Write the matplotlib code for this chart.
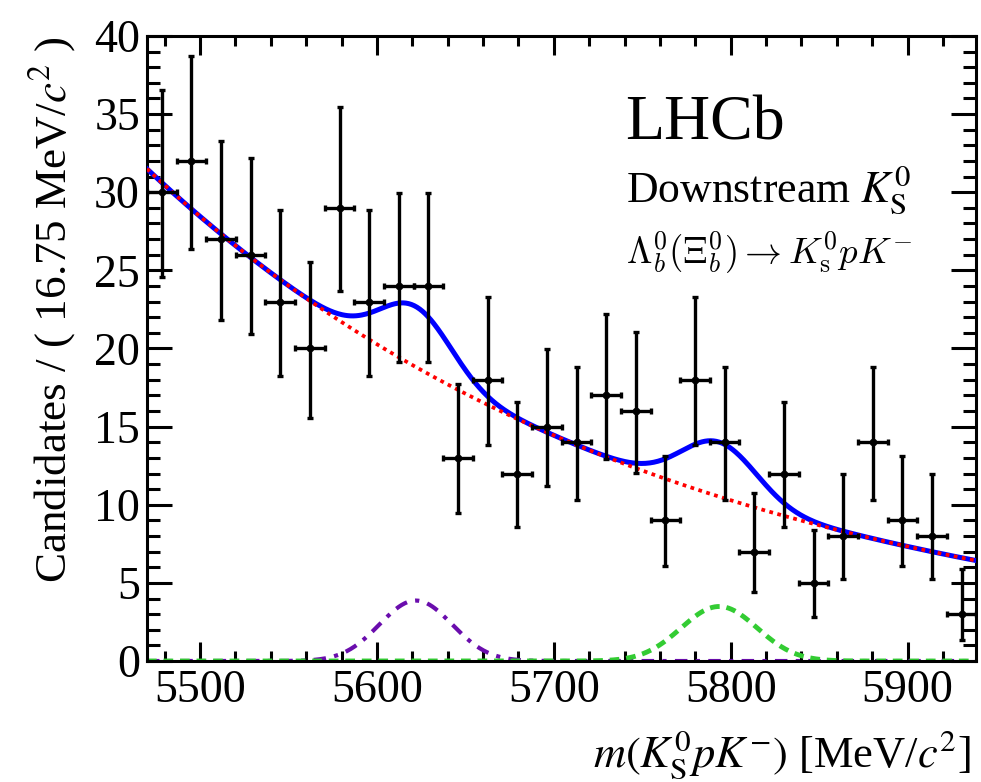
import numpy as np
import matplotlib
matplotlib.use("Agg")
import matplotlib.pyplot as plt
from matplotlib.ticker import MultipleLocator

# binning: 28 bins of 16.75 MeV starting at 5470
bin_start = 5470.0
bin_width = 16.75

counts = [30, 32, 27, 26, 23, 20, 29, 23, 24, 24, 13, 18, 12, 15,
          14, 17, 16, 9, 18, 14, 7, 12, 5, 8, 14, 9, 8, 3]

# asymmetric Poisson errors (68% intervals) for each bin
err_lo = [5.45, 5.64, 5.16, 5.06, 4.76, 4.43, 5.35, 4.76, 4.86, 4.86,
          3.55, 4.20, 3.41, 3.83, 3.69, 4.08, 3.95, 2.94, 4.20, 3.69,
          2.58, 3.41, 2.16, 2.76, 3.69, 2.94, 2.76, 1.63]
err_hi = [6.54, 6.73, 6.26, 6.16, 5.86, 5.54, 6.44, 5.86, 5.96, 5.96,
          4.70, 5.32, 4.56, 4.96, 4.83, 5.20, 5.08, 4.11, 5.32, 4.83,
          3.77, 4.56, 3.38, 3.94, 4.83, 4.11, 3.94, 2.92]

# fit model parameters
bkg_norm = 31.5        # background at 5470
bkg_slope = 0.00339    # exponential slope (1/MeV)
lb_mean, lb_sigma, lb_height = 5622.0, 20.5, 3.87
xib_mean, xib_sigma, xib_height = 5793.5, 21.5, 3.49

x_min, x_max = 5470.0, 5939.0

plt.rcParams["font.family"] = ["Liberation Serif", "DejaVu Serif"]
plt.rcParams["mathtext.fontset"] = "stix"

centers = bin_start + bin_width * (np.arange(len(counts)) + 0.5)

xs = np.linspace(x_min, x_max, 600)
bkg = bkg_norm * np.exp(-bkg_slope * (xs - x_min))
lb = lb_height * np.exp(-0.5 * ((xs - lb_mean) / lb_sigma) ** 2)
xib = xib_height * np.exp(-0.5 * ((xs - xib_mean) / xib_sigma) ** 2)
total = bkg + lb + xib

fig = plt.figure(figsize=(9.81, 7.82), dpi=100)
ax = fig.add_axes([0.1498, 0.1547, 0.8456, 0.7993])

ax.plot(xs, lb, color="#6a0dad", lw=3, linestyle=(0, (3, 2, 1, 2)), zorder=2)
ax.plot(xs, xib, color="#33cc33", lw=3.5, linestyle=(0, (2, 1.4)), zorder=2)
ax.plot(xs, total, color="#0000ff", lw=3.6, zorder=3)
ax.plot(xs, bkg, color="#ff0000", lw=2.7, linestyle=(0, (1, 1.2)), zorder=4)

ax.errorbar(centers, counts, yerr=[err_lo, err_hi], xerr=bin_width / 2,
            fmt="o", color="black", ms=4.5, elinewidth=2.4,
            capsize=2.5, capthick=2.4, zorder=5)

ax.set_xlim(x_min, x_max)
ax.set_ylim(0, 40)

ax.xaxis.set_major_locator(MultipleLocator(100))
ax.xaxis.set_minor_locator(MultipleLocator(20))
ax.yaxis.set_major_locator(MultipleLocator(5))
ax.yaxis.set_minor_locator(MultipleLocator(1))

for s in ax.spines.values():
    s.set_linewidth(2.2)

ax.tick_params(axis="both", which="both", direction="in", top=True, right=True,
               width=2.2, labelsize=33)
ax.tick_params(axis="x", which="major", length=14, pad=6)
ax.tick_params(axis="x", which="minor", length=7)
ax.tick_params(axis="y", which="major", length=18, pad=5)
ax.tick_params(axis="y", which="minor", length=9.4)

ax.set_ylabel(r"Candidates / ( 16.75 MeV/$c^2$ )", fontsize=32.5, loc="top")
ax.yaxis.set_label_coords(-0.083, 1.0)
ax.set_xlabel(r"$m(K^0_{\rm S}pK^{-})$ [MeV/$c^2$]", fontsize=32, loc="right")
ax.xaxis.set_label_coords(0.993, -0.108)

ax.text(0.577, 0.835, "LHCb", transform=ax.transAxes, fontsize=46)
ax.text(0.577, 0.735, r"Downstream $K^0_{\rm S}$", transform=ax.transAxes, fontsize=31.5)
ax.text(0.577, 0.635, r"$\Lambda_b^0(\Xi_b^0) \rightarrow K^0_{\rm s}pK^{-}$",
        transform=ax.transAxes, fontsize=26.5, math_fontfamily="cm")

fig.savefig("out.png", dpi=100)
